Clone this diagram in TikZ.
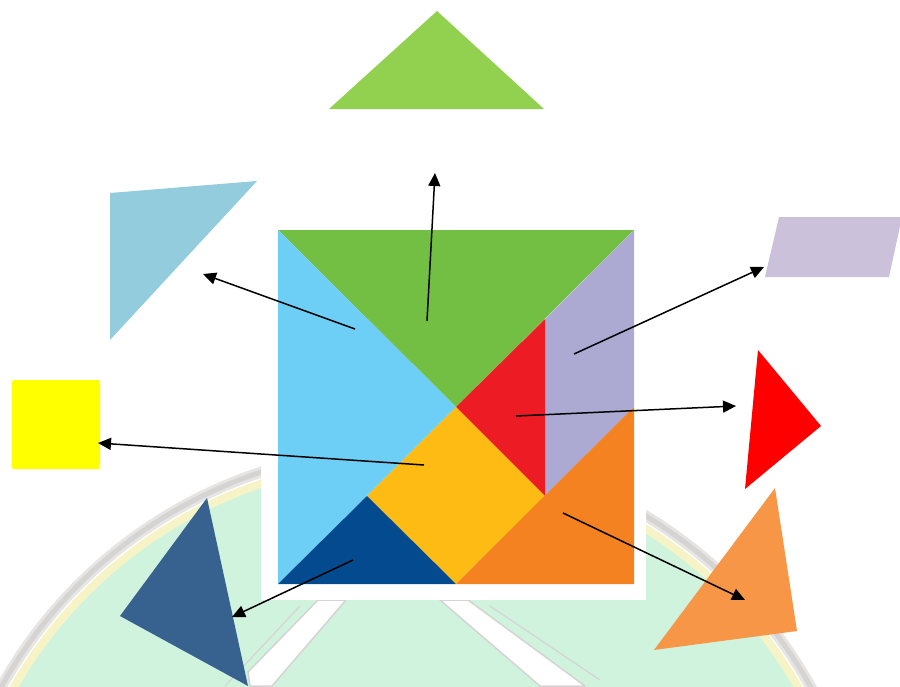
\documentclass[tikz,border=0pt]{standalone}
\usetikzlibrary{arrows.meta}
\definecolor{bigGreen}{HTML}{92D050}
\definecolor{bigBlue}{HTML}{93CDDD}
\definecolor{bigLav}{HTML}{CCC1DA}
\definecolor{bigRed}{HTML}{FF0000}
\definecolor{bigYel}{HTML}{FFFF00}
\definecolor{bigNavy}{HTML}{37618F}
\definecolor{bigOrange}{HTML}{F79646}
\definecolor{tGreen}{HTML}{72BF44}
\definecolor{tBlue}{HTML}{6DCFF6}
\definecolor{tLav}{HTML}{ACA9D3}
\definecolor{tRed}{HTML}{ED1C24}
\definecolor{tYel}{HTML}{FDBB13}
\definecolor{tNavy}{HTML}{034A8E}
\definecolor{tOrange}{HTML}{F58220}
\definecolor{wmGreen}{HTML}{D0F3DE}
\definecolor{wmYellow}{HTML}{F6F4C6}
\definecolor{wmGray}{HTML}{D6D3D3}
\begin{document}
\begin{tikzpicture}[x=1pt,y=-1pt,
  arr/.style={line width=1.5pt,-{Triangle[length=13pt,width=12pt]}},
  leaf/.style={fill=white,draw=wmGray,line width=1.5pt,line join=round}]
\useasboundingbox (0,0) rectangle (900,686);
% faint watermark emblem
\begin{scope}
\clip (0,0) rectangle (900,686);
\fill[wmGreen] (406,912) circle (450pt);
\draw[wmYellow,line width=8pt] (406,912) circle (452pt);
\draw[wmGray!60,line width=11pt] (406,912) circle (463pt);
\draw[wmGray,line width=5pt] (406,912) circle (463pt);
\draw[leaf] (248,672) -- (318,600) -- (346,600) -- (272,686) -- (250,686) -- cycle;
\draw[leaf] (440,600) -- (468,600) -- (585,686) -- (540,686) -- cycle;
\draw[wmGray,line width=1.2pt] (225,686) -- (300,606);
\draw[wmGray,line width=1.2pt] (490,606) -- (600,680);
\end{scope}
% white frame of the tangram picture
\fill[white] (261,216) rectangle (646,600);
% tangram square
\coordinate (TL) at (278,230);
\coordinate (TR) at (634,230);
\coordinate (BL) at (278,584);
\coordinate (BR) at (634,584);
\coordinate (C) at (456,407);
\coordinate (Lt) at (545,319);
\coordinate (Lb) at (545,496);
\coordinate (Rm) at (634,407);
\coordinate (Bm) at (456,584);
\coordinate (Yl) at (367,496);
\fill[tGreen] (TL) -- (TR) -- (C) -- cycle;
\fill[tBlue] (TL) -- (C) -- (Yl) -- (BL) -- cycle;
\fill[tLav] (TR) -- (Rm) -- (Lb) -- (Lt) -- cycle;
\fill[tRed] (C) -- (Lt) -- (Lb) -- cycle;
\fill[tYel] (C) -- (Lb) -- (Bm) -- (Yl) -- cycle;
\fill[tNavy] (BL) -- (Yl) -- (Bm) -- cycle;
\fill[tOrange] (Bm) -- (Rm) -- (BR) -- cycle;
% separated pieces
\fill[bigGreen] (329,109) -- (437,11) -- (544,109) -- cycle;
\fill[bigBlue] (110,193) -- (257,181) -- (110,340) -- cycle;
\fill[bigLav] (779,217) -- (902,217) -- (889,277) -- (765,277) -- cycle;
\fill[bigRed] (758,350) -- (821,426) -- (745,489) -- cycle;
\fill[bigYel, rounded corners=1.5pt] (12,380) rectangle (100,469);
\fill[bigNavy] (207,498) -- (248,686) -- (120,616) -- cycle;
\fill[bigOrange] (775,488) -- (797,631) -- (654,650) -- cycle;
% arrow end points
\coordinate (sG) at (427,321); \coordinate (eG) at (435,173);
\coordinate (sB) at (355,329); \coordinate (eB) at (203,274);
\coordinate (sL) at (574,354); \coordinate (eL) at (764,267);
\coordinate (sR) at (516,416); \coordinate (eR) at (736,406);
\coordinate (sY) at (424,465); \coordinate (eY) at (98,443);
\coordinate (sN) at (353,560); \coordinate (eN) at (232,617);
\coordinate (sO) at (563,513); \coordinate (eO) at (745,600);
\draw[arr] (sG) -- (eG);
\draw[arr] (sB) -- (eB);
\draw[arr] (sL) -- (eL);
\draw[arr] (sR) -- (eR);
\draw[arr] (sY) -- (eY);
\draw[arr] (sN) -- (eN);
\draw[arr] (sO) -- (eO);
\end{tikzpicture}
\end{document}
